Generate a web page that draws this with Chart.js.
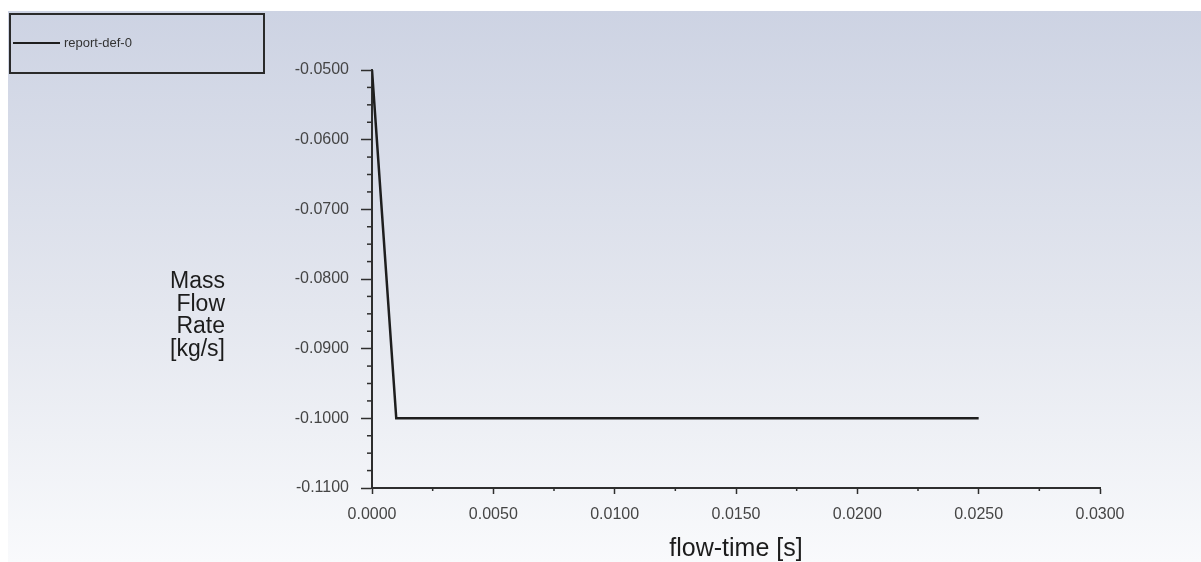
<!DOCTYPE html>
<html>
<head>
<meta charset="utf-8">
<script src="https://cdn.jsdelivr.net/npm/chart.js@4.4.1/dist/chart.umd.min.js"></script>
<style>
  html, body { margin: 0; padding: 0; background: #ffffff; }
  #wrap { position: relative; width: 1201px; height: 562px; overflow: hidden; }
  #bg { position: absolute; left: 8px; top: 11px; width: 1193px; height: 551px;
        background: linear-gradient(to bottom, #cdd3e3 0%, #e4e7ef 55%, #f9fafc 100%); }
  #c { position: absolute; left: 0; top: 0; }
</style>
</head>
<body>
<div id="wrap">
  <div id="bg"></div>
  <canvas id="c" width="1201" height="562"></canvas>
</div>
<script>
// ---- data ----
const seriesName = "report-def-0";
const flowTime = [0.0, 0.001, 0.025];
const massFlow = [-0.05, -0.1, -0.1];
const xTitle = "flow-time [s]";
const yTitleLines = ["Mass", "Flow", "Rate", "[kg/s]"];
const xMin = 0.0, xMax = 0.03, xMajor = 0.005, xMinor = 0.0025;
const yMin = -0.11, yMax = -0.05, yMajor = 0.01, yMinor = 0.0025;

function isMajor(v, step) {
  const r = v / step;
  return Math.abs(r - Math.round(r)) < 1e-6;
}

const AXIS_COLOR = '#2e2e2e';
const LABEL_COLOR = '#454545';

const decorPlugin = {
  id: 'decor',
  afterDraw(chart) {
    const ctx = chart.ctx;
    const xs = chart.scales.x, ys = chart.scales.y;
    ctx.save();
    // minor ticks
    ctx.strokeStyle = AXIS_COLOR;
    ctx.lineWidth = 1.5;
    xs.ticks.forEach(t => {
      if (!isMajor(t.value, xMajor)) {
        const px = xs.getPixelForValue(t.value);
        ctx.beginPath();
        ctx.moveTo(px, xs.top);
        ctx.lineTo(px, xs.top + 3);
        ctx.stroke();
      }
    });
    ys.ticks.forEach(t => {
      if (!isMajor(t.value, yMajor)) {
        const py = ys.getPixelForValue(t.value);
        ctx.beginPath();
        ctx.moveTo(ys.right, py);
        ctx.lineTo(ys.right - 5, py);
        ctx.stroke();
      }
    });
    // axis titles
    ctx.fillStyle = '#1c1c1c';
    ctx.font = '25px "Liberation Sans", Arial, sans-serif';
    ctx.textAlign = 'center';
    ctx.textBaseline = 'alphabetic';
    ctx.fillText(xTitle, (chart.chartArea.left + chart.chartArea.right) / 2, 556);
    ctx.font = '23px "Liberation Sans", Arial, sans-serif';
    ctx.textAlign = 'right';
    yTitleLines.forEach((s, i) => ctx.fillText(s, 225, 288 + i * 22.7));
    // legend
    ctx.strokeStyle = '#2a2a2a';
    ctx.lineWidth = 2;
    ctx.strokeRect(10, 14, 254, 59);
    const ds = chart.data.datasets[0];
    ctx.strokeStyle = ds.borderColor;
    ctx.lineWidth = 2;
    ctx.beginPath();
    ctx.moveTo(13, 43);
    ctx.lineTo(60, 43);
    ctx.stroke();
    ctx.fillStyle = '#333';
    ctx.font = '13px "Liberation Sans", Arial, sans-serif';
    ctx.textAlign = 'left';
    ctx.textBaseline = 'middle';
    ctx.fillText(ds.label, 64, 43);
    ctx.restore();
  }
};

new Chart(document.getElementById('c'), {
  type: 'line',
  data: {
    datasets: [{
      label: seriesName,
      data: flowTime.map((t, i) => ({ x: t, y: massFlow[i] })),
      borderColor: '#1e1e1e',
      borderWidth: 2.5,
      pointRadius: 0,
      tension: 0,
      fill: false
    }]
  },
  options: {
    responsive: false,
    animation: false,
    devicePixelRatio: 1,
    layout: { padding: { left: 0, top: 70, right: 101, bottom: 0 } },
    plugins: { legend: { display: false }, tooltip: { enabled: false } },
    scales: {
      x: {
        type: 'linear',
        min: xMin, max: xMax,
        afterFit(s) { s.height = 74; },
        border: { display: true, color: AXIS_COLOR, width: 2 },
        grid: {
          display: true, drawOnChartArea: false, drawTicks: true,
          tickLength: 6, tickWidth: 1.5,
          tickColor: (c) => (c.tick && isMajor(c.tick.value, xMajor)) ? AXIS_COLOR : 'rgba(0,0,0,0)'
        },
        ticks: {
          stepSize: xMinor, autoSkip: false, maxRotation: 0, padding: 11,
          color: LABEL_COLOR,
          font: { family: '"Liberation Sans", Arial, sans-serif', size: 16 },
          callback: (v) => isMajor(v, xMajor) ? Number(v).toFixed(4) : ''
        }
      },
      y: {
        type: 'linear',
        min: yMin, max: yMax,
        afterFit(s) { s.width = 372; },
        border: { display: true, color: AXIS_COLOR, width: 2 },
        grid: {
          display: true, drawOnChartArea: false, drawTicks: true,
          tickLength: 11, tickWidth: 1.5,
          tickColor: (c) => (c.tick && isMajor(c.tick.value, yMajor)) ? AXIS_COLOR : 'rgba(0,0,0,0)'
        },
        ticks: {
          stepSize: yMinor, autoSkip: false, padding: 12,
          color: LABEL_COLOR,
          font: { family: '"Liberation Sans", Arial, sans-serif', size: 16 },
          callback: (v) => {
            if (!isMajor(v, yMajor)) return '';
            const s = Number(v).toFixed(4);
            return s === '-0.0000' ? '0.0000' : s;
          }
        }
      }
    }
  },
  plugins: [decorPlugin]
});
</script>
</body>
</html>
